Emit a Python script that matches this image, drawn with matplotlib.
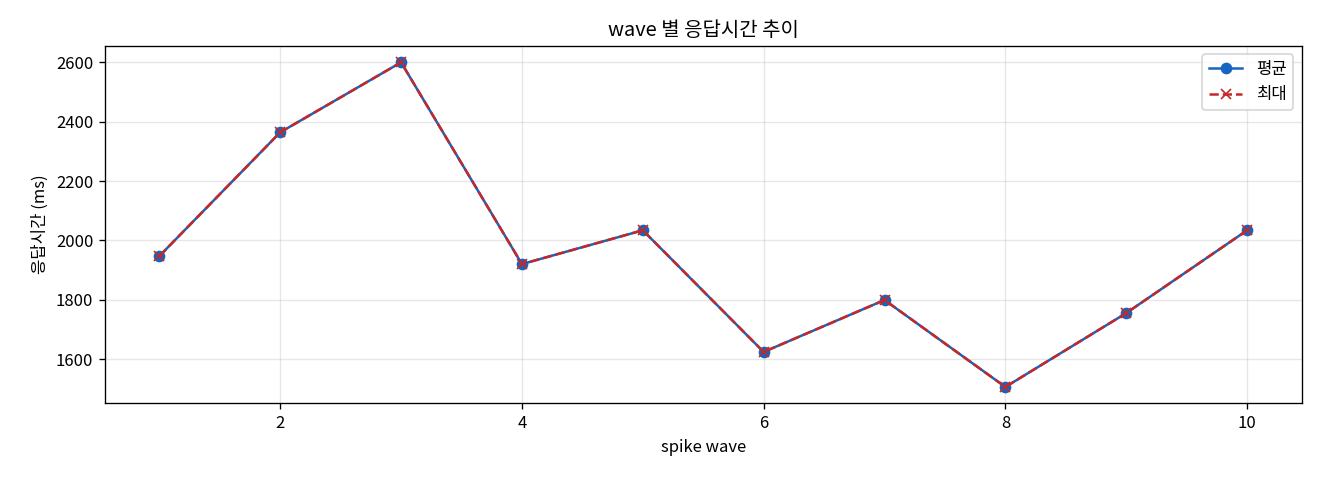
import matplotlib
matplotlib.use("Agg")
import matplotlib.pyplot as plt

plt.rcParams['font.family'] = ['Noto Sans CJK KR', 'DejaVu Sans']
plt.rcParams['axes.unicode_minus'] = False

# wave 별 응답시간 (ms)
waves = [1, 2, 3, 4, 5, 6, 7, 8, 9, 10]
avg_ms = [1947, 2364, 2600, 1920, 2034, 1624, 1799, 1506, 1755, 2034]
max_ms = [1947, 2364, 2600, 1920, 2034, 1624, 1799, 1506, 1755, 2034]

fig, ax = plt.subplots(figsize=(11, 4), dpi=120)
ax.plot(waves, avg_ms, marker='o', color='#1565C0', label='평균')
ax.plot(waves, max_ms, marker='x', linestyle='--', color='#C62828', label='최대')

ax.set_title('wave 별 응답시간 추이')
ax.set_xlabel('spike wave')
ax.set_ylabel('응답시간 (ms)')
ax.grid(True, alpha=0.3)
ax.legend(loc='upper right')

fig.subplots_adjust(left=0.0795, right=0.986, top=0.904, bottom=0.160)
fig.savefig('out.png', dpi=120)
